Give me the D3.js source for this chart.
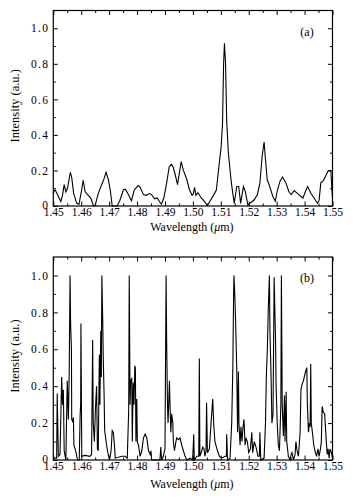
<!DOCTYPE html>
<html><head><meta charset="utf-8">
<script src="https://cdn.jsdelivr.net/npm/d3@7"></script>
<style>body{margin:0;background:#fff}svg{display:block}</style>
</head><body><svg id="c" width="364" height="501"></svg>
<script>
// ---------- data ----------
const xTicks = [1.45,1.46,1.47,1.48,1.49,1.50,1.51,1.52,1.53,1.54,1.55];
const yTicks = [0,0.2,0.4,0.6,0.8,1.0];
const panelLabels = ["(a)","(b)"];
const xLabel = "Wavelength (";
const yLabel = "Intensity (a.u.)";

const lambdaA = [1.4500,1.4503,1.4507,1.4515,1.4527,1.4533,1.4539,1.4545,1.4551,1.4561,1.4566,1.4573,1.4584,1.4592,1.4601,1.4607,1.4614,1.4624,1.4634,1.4644,1.4650,1.4661,1.4673,1.4681,1.4689,1.4697,1.4704,1.4711,1.4728,1.4738,1.4751,1.4758,1.4767,1.4780,1.4790,1.4804,1.4811,1.4823,1.4833,1.4844,1.4852,1.4863,1.4872,1.4880,1.4887,1.4896,1.4906,1.4915,1.4923,1.4930,1.4936,1.4945,1.4950,1.4958,1.4966,1.4977,1.4988,1.4997,1.5001,1.5006,1.5011,1.5018,1.5030,1.5042,1.5052,1.5062,1.5075,1.5084,1.5093,1.5101,1.5106,1.5110,1.5113,1.5117,1.5121,1.5127,1.5137,1.5143,1.5148,1.5157,1.5164,1.5171,1.5181,1.5188,1.5197,1.5208,1.5220,1.5231,1.5240,1.5248,1.5255,1.5259,1.5266,1.5275,1.5286,1.5295,1.5303,1.5312,1.5321,1.5333,1.5344,1.5352,1.5363,1.5375,1.5394,1.5406,1.5411,1.5423,1.5434,1.5446,1.5452,1.5458,1.5466,1.5476,1.5485,1.5494,1.5500];
const intensityA = [0.07,0.085,0.09,0.065,0.025,0.06,0.12,0.08,0.10,0.19,0.16,0.07,0.015,0.01,0.085,0.145,0.08,0.062,0.045,0.0,0.005,0.07,0.12,0.15,0.19,0.15,0.09,0.0,0.0,0.03,0.09,0.095,0.07,0.03,0.09,0.115,0.105,0.064,0.06,0.07,0.064,0.04,0.045,0.025,0.01,0.045,0.13,0.22,0.235,0.215,0.18,0.12,0.17,0.25,0.20,0.155,0.09,0.06,0.065,0.105,0.06,0.075,0.045,0.025,0.003,0.03,0.064,0.09,0.22,0.33,0.46,0.80,0.915,0.80,0.48,0.30,0.14,0.07,0.015,0.11,0.11,0.015,0.11,0.08,0.005,0.02,0.035,0.065,0.13,0.28,0.36,0.28,0.15,0.11,0.055,0.027,0.09,0.14,0.163,0.13,0.08,0.064,0.087,0.07,0.045,0.093,0.11,0.07,0.045,0.015,0.03,0.13,0.14,0.17,0.20,0.20,0.04];

const lambdaB = [1.4500,1.4512,1.4514,1.4518,1.4524,1.4530,1.4533,1.4536,1.4539,1.4545,1.4550,1.4554,1.4557,1.4560,1.4562,1.4565,1.4566,1.4569,1.4572,1.4574,1.4580,1.4587,1.4593,1.4596,1.4598,1.4599,1.4602,1.4614,1.4631,1.4637,1.4641,1.4643,1.4647,1.4651,1.4655,1.4658,1.4661,1.4665,1.4667,1.4670,1.4672,1.4674,1.4677,1.4679,1.4682,1.4684,1.4689,1.4694,1.4701,1.4707,1.4711,1.4715,1.4719,1.4722,1.4745,1.4757,1.4765,1.4770,1.4772,1.4775,1.4777,1.4781,1.4783,1.4786,1.4789,1.4792,1.4794,1.4796,1.4799,1.4801,1.4805,1.4811,1.4817,1.4823,1.4829,1.4835,1.4841,1.4847,1.4850,1.4852,1.4876,1.4882,1.4885,1.4888,1.4894,1.4900,1.4904,1.4906,1.4909,1.4911,1.4916,1.4918,1.4921,1.4924,1.4928,1.4930,1.4934,1.4938,1.4942,1.4948,1.4954,1.4960,1.4966,1.4972,1.4978,1.4990,1.4999,1.5003,1.5005,1.5014,1.5021,1.5023,1.5025,1.5032,1.5035,1.5040,1.5043,1.5047,1.5049,1.5052,1.5059,1.5065,1.5071,1.5075,1.5079,1.5088,1.5095,1.5103,1.5115,1.5120,1.5121,1.5124,1.5133,1.5139,1.5143,1.5146,1.5147,1.5150,1.5153,1.5157,1.5160,1.5163,1.5165,1.5169,1.5172,1.5176,1.5179,1.5183,1.5187,1.5190,1.5195,1.5200,1.5206,1.5211,1.5214,1.5220,1.5226,1.5233,1.5238,1.5240,1.5243,1.5255,1.5260,1.5263,1.5267,1.5270,1.5274,1.5276,1.5280,1.5283,1.5287,1.5291,1.5293,1.5296,1.5298,1.5302,1.5306,1.5310,1.5315,1.5317,1.5320,1.5324,1.5328,1.5330,1.5334,1.5336,1.5342,1.5348,1.5352,1.5355,1.5360,1.5366,1.5369,1.5373,1.5378,1.5384,1.5387,1.5391,1.5396,1.5402,1.5408,1.5410,1.5414,1.5417,1.5420,1.5422,1.5424,1.5428,1.5433,1.5437,1.5443,1.5448,1.5452,1.5457,1.5460,1.5463,1.5467,1.5472,1.5477,1.5481,1.5484,1.5488,1.5491,1.5496,1.5500];
const intensityB = [0.01,0.01,0.36,0.02,0.03,0.45,0.30,0.38,0.05,0.0,0.43,0.22,0.47,1.0,0.74,0.60,0.22,0.21,0.23,0.08,0.05,0.0,0.0,0.24,0.30,0.74,0.02,0.025,0.02,0.03,0.65,0.20,0.10,0.28,0.40,0.06,0.05,0.57,0.30,0.70,0.45,1.0,0.76,0.55,0.35,0.16,0.10,0.05,0.0,0.05,0.16,0.15,0.08,0.01,0.02,0.02,0.01,0.27,1.0,0.30,0.43,0.44,0.10,0.42,0.30,0.51,0.50,0.10,0.33,0.10,0.08,0.02,0.05,0.12,0.14,0.12,0.05,0.03,0.05,0.0,0.0,0.0,0.07,0.0,0.02,0.06,1.0,0.64,0.30,0.20,0.43,0.30,0.15,0.25,0.20,0.10,0.05,0.09,0.12,0.11,0.12,0.08,0.05,0.02,0.0,0.01,0.0,0.14,0.0,0.02,0.02,0.55,0.02,0.05,0.07,0.06,0.02,0.05,0.31,0.04,0.06,0.20,0.33,0.18,0.10,0.05,0.02,0.01,0.02,0.02,0.14,0.0,0.01,0.20,0.50,0.92,1.0,0.90,0.75,0.50,0.15,0.48,0.20,0.08,0.18,0.10,0.17,0.22,0.08,0.12,0.10,0.04,0.06,0.15,0.04,0.10,0.07,0.02,0.02,0.15,0.0,0.01,0.20,0.45,0.62,0.82,1.0,0.70,0.45,0.20,0.25,0.99,0.85,0.65,0.40,0.20,0.08,0.05,0.30,1.0,0.30,0.13,0.35,0.10,0.37,0.10,0.02,0.0,0.03,0.04,0.0,0.03,0.10,0.05,0.02,0.15,0.38,0.41,0.43,0.47,0.50,0.30,0.15,0.20,0.18,0.52,0.20,0.15,0.08,0.05,0.02,0.06,0.02,0.06,0.10,0.29,0.26,0.25,0.12,0.03,0.06,0.01,0.06,0.04,0.01];

// ---------- drawing ----------
const svg = d3.select("#c");
const font = "'Liberation Serif','Times New Roman',serif";
const L = 53.3, R = 332.5;
const panels = [
  {top:10.5, bottom:206, lam:lambdaA, val:intensityA, label:panelLabels[0], labY:36, xlabY:231},
  {top:257, bottom:460, lam:lambdaB, val:intensityB, label:panelLabels[1], labY:282, xlabY:488}
];

panels.forEach(p => {
  const x = d3.scaleLinear().domain([1.45,1.55]).range([L,R]);
  const y = d3.scaleLinear().domain([0,1.1]).range([p.bottom,p.top]);
  const g = svg.append("g");
  const xMinor = d3.range(1.455,1.55,0.01);
  const yMinor = [0.1,0.3,0.5,0.7,0.9];

  const styleAxis = (sel) => {
    sel.select(".domain").remove();
    sel.selectAll("line").attr("stroke","#000").attr("stroke-width",1);
    sel.selectAll("text").attr("font-family",font).attr("font-size","11.5px").attr("fill","#000");
  };
  // bottom
  g.append("g").attr("transform",`translate(0,${p.bottom})`)
    .call(d3.axisBottom(x).tickValues(xTicks).tickSizeInner(-4.5).tickSizeOuter(0).tickPadding(2).tickFormat(d3.format(".2f")))
    .call(styleAxis);
  g.append("g").attr("transform",`translate(0,${p.bottom})`)
    .call(d3.axisBottom(x).tickValues(xMinor).tickSizeInner(-2.5).tickSizeOuter(0).tickFormat(""))
    .call(styleAxis);
  // top
  g.append("g").attr("transform",`translate(0,${p.top})`)
    .call(d3.axisTop(x).tickValues(xTicks).tickSizeInner(-4.5).tickSizeOuter(0).tickFormat(""))
    .call(styleAxis);
  g.append("g").attr("transform",`translate(0,${p.top})`)
    .call(d3.axisTop(x).tickValues(xMinor).tickSizeInner(-2.5).tickSizeOuter(0).tickFormat(""))
    .call(styleAxis);
  // left
  const ly = g.append("g").attr("transform",`translate(${L},0)`)
    .call(d3.axisLeft(y).tickValues(yTicks).tickSizeInner(-4.5).tickSizeOuter(0).tickPadding(4).tickFormat(d => d===0 ? "0" : d3.format(".1f")(d)))
    .call(styleAxis);
  ly.selectAll("text").attr("letter-spacing","1.3px").attr("dy", d => d===0 ? "0.2em" : "0.32em");
  g.append("g").attr("transform",`translate(${L},0)`)
    .call(d3.axisLeft(y).tickValues(yMinor).tickSizeInner(-2.5).tickSizeOuter(0).tickFormat(""))
    .call(styleAxis);
  // right
  g.append("g").attr("transform",`translate(${R},0)`)
    .call(d3.axisRight(y).tickValues(yTicks).tickSizeInner(-4.5).tickSizeOuter(0).tickFormat(""))
    .call(styleAxis);
  g.append("g").attr("transform",`translate(${R},0)`)
    .call(d3.axisRight(y).tickValues(yMinor).tickSizeInner(-2.5).tickSizeOuter(0).tickFormat(""))
    .call(styleAxis);

  // data line
  const pts = p.lam.map((l,i)=>[l,p.val[i]]);
  g.append("path").datum(pts)
    .attr("fill","none").attr("stroke","#000").attr("stroke-width",1.1).attr("stroke-linejoin","miter")
    .attr("d", d3.line().x(d=>x(d[0])).y(d=>y(d[1])));

  // frame
  g.append("rect").attr("x",L).attr("y",p.top).attr("width",R-L).attr("height",p.bottom-p.top)
    .attr("fill","none").attr("stroke","#000").attr("stroke-width",1.2);

  // panel label
  g.append("text").attr("x",307).attr("y",p.labY).attr("text-anchor","middle")
    .attr("font-family",font).attr("font-size","12px").text(p.label);

  // x label
  const xt = g.append("text").attr("x",(L+R)/2 - 1).attr("y",p.xlabY).attr("text-anchor","middle")
    .attr("font-family",font).attr("font-size","12px");
  xt.append("tspan").text(xLabel);
  xt.append("tspan").attr("font-style","italic").text("\u03BC");
  xt.append("tspan").text("m)");

  // y label
  g.append("text").attr("transform",`translate(19,${(p.top+p.bottom)/2 - 2.5}) rotate(-90)`)
    .attr("text-anchor","middle").attr("font-family",font).attr("font-size","12.5px").text(yLabel);
});
</script></body></html>
